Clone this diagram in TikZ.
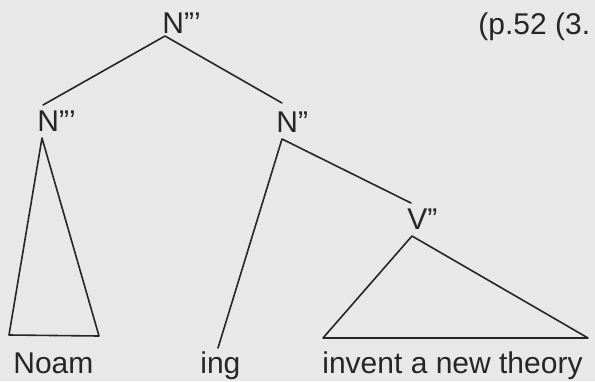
\documentclass[tikz,border=0pt]{standalone}
\usepackage{fontspec}
\setmainfont{Liberation Sans}
\definecolor{paper}{RGB}{232,232,232}
\definecolor{ink}{RGB}{38,38,38}

\begin{document}
\begin{tikzpicture}[
  x=0.5pt, y=-0.5pt,
  every node/.style={inner sep=0pt, anchor=base west, font=\fontsize{15}{18}\selectfont, text=ink},
  branch/.style={draw=ink, line width=0.8pt, line join=round, line cap=round},
  roof/.style={branch}
]
\fill[paper] (0,0) rectangle (595,381);
\useasboundingbox (0,0) rectangle (595,381);

% labels
\node (np-top)  at (162,33)  {N'''};
\node (np-left) at (37,131)  {N'''};
\node (n-bar)   at (276,132) {N''};
\node (v-bar)   at (407,229) {V''};
\node (ref)     at (478,34)  {(p.52 (3.};

\node (noam)    at (13,373)  {Noam};
\node (ing)     at (200,373) {ing};
\node (vp-text) at (322,373) {invent a new theory};

% attachment points
\coordinate (top-foot)   at (165,36);
\coordinate (left-head)  at (43,105);
\coordinate (left-foot)  at (42,138);
\coordinate (nbar-head)  at (282,103);
\coordinate (nbar-foot)  at (282,139);
\coordinate (ing-head)   at (218,348);
\coordinate (vbar-head)  at (411,203);
\coordinate (vbar-foot)  at (412,236);

\draw[branch] (left-head) -- (top-foot) -- (nbar-head);
\draw[branch] (ing-head) -- (nbar-foot) -- (vbar-head);

\draw[roof] (left-foot) -- (9,335) -- (99,336) -- cycle;
\draw[roof] (vbar-foot) -- (323,338) -- (588,338) -- cycle;

\end{tikzpicture}
\end{document}
